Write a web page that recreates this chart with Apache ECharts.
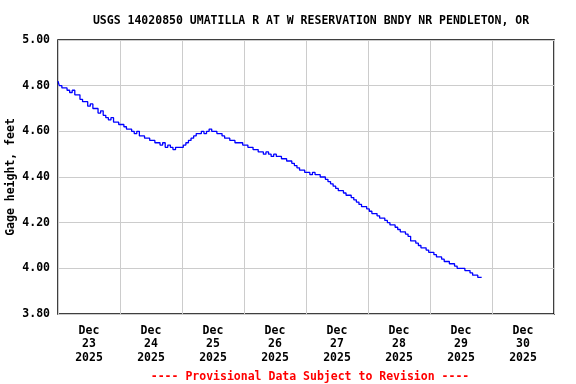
<!DOCTYPE html>
<html><head><meta charset="utf-8">
<script src="https://cdn.jsdelivr.net/npm/echarts@6/dist/echarts.min.js"></script>
<style>html,body{margin:0;padding:0;background:#fff}#c{width:576px;height:384px}</style>
</head><body><div id="c"></div>
<script>
const titleText = 'USGS 14020850 UMATILLA R AT W RESERVATION BNDY NR PENDLETON, OR';
const footerText = '---- Provisional Data Subject to Revision ----';
const yAxisName = 'Gage height, feet';
const dayLabels = ['Dec\n23\n2025','Dec\n24\n2025','Dec\n25\n2025','Dec\n26\n2025','Dec\n27\n2025','Dec\n28\n2025','Dec\n29\n2025','Dec\n30\n2025'];
const yTicks = [3.8, 4.0, 4.2, 4.4, 4.6, 4.8, 5.0];
// hourly gage height readings (ft), starting at 00:00 of each day
const dec23 = [4.82,4.80,4.79,4.79,4.78,4.77,4.78,4.76,4.76,4.74,4.73,4.73,4.71,4.72,4.70,4.70,4.68,4.69,4.67,4.66,4.65,4.66,4.64,4.64];
const dec24 = [4.63,4.63,4.62,4.61,4.61,4.60,4.59,4.60,4.58,4.58,4.57,4.57,4.56,4.56,4.55,4.55,4.54,4.55,4.53,4.54,4.53,4.52,4.53,4.53];
const dec25 = [4.53,4.54,4.55,4.56,4.57,4.58,4.59,4.59,4.60,4.59,4.60,4.61,4.60,4.60,4.59,4.59,4.58,4.57,4.57,4.56,4.56,4.55,4.55,4.55];
const dec26 = [4.54,4.54,4.53,4.53,4.52,4.52,4.51,4.51,4.50,4.51,4.50,4.49,4.50,4.49,4.49,4.48,4.48,4.47,4.47,4.46,4.45,4.44,4.43,4.43];
const dec27 = [4.42,4.42,4.41,4.42,4.41,4.41,4.40,4.40,4.39,4.38,4.37,4.36,4.35,4.34,4.34,4.33,4.32,4.32,4.31,4.30,4.29,4.28,4.27,4.27];
const dec28 = [4.26,4.25,4.24,4.24,4.23,4.22,4.22,4.21,4.20,4.19,4.19,4.18,4.17,4.16,4.16,4.15,4.14,4.12,4.12,4.11,4.10,4.09,4.09,4.08];
const dec29 = [4.07,4.07,4.06,4.05,4.05,4.04,4.03,4.03,4.02,4.02,4.01,4.00,4.00,4.00,3.99,3.99,3.98,3.97,3.97,3.96,3.96];

const days = [dec23, dec24, dec25, dec26, dec27, dec28, dec29];
const seriesData = [];
days.forEach((arr, d) => arr.forEach((v, h) => seriesData.push([d * 24 + h, v])));

const FONT = '"DejaVu Sans Mono", monospace';
const chart = echarts.init(document.getElementById('c'), null, {renderer: 'canvas'});
chart.setOption({
  animation: false,
  backgroundColor: '#fff',
  title: [
    {text: titleText, left: 306, top: 10, textAlign: 'center',
     textStyle: {fontFamily: FONT, fontWeight: 'bold', fontSize: 11.5, color: '#000'}},
    {text: footerText, left: 305, top: 366, textAlign: 'center',
     textStyle: {fontFamily: FONT, fontWeight: 'bold', fontSize: 11.5, color: '#ff0000'}}
  ],
  grid: {left: 58, right: 22, top: 40, bottom: 70, containLabel: false, outerBoundsMode: 'none',
         show: true, borderColor: '#000', borderWidth: 1.5, backgroundColor: '#fff'},
  xAxis: [
    {type: 'category', data: dayLabels, boundaryGap: true,
     axisLine: {show: false}, axisTick: {show: false},
     splitLine: {show: true, lineStyle: {color: '#cccccc', width: 1}},
     axisLabel: {fontFamily: FONT, fontWeight: 'bold', fontSize: 11.5, color: '#000', lineHeight: 13.5, margin: 10, interval: 0}},
    {type: 'value', min: 0, max: 192, show: false}
  ],
  yAxis: {
    type: 'value', min: 3.8, max: 5.0, interval: 0.2,
    name: yAxisName, nameLocation: 'middle', nameGap: 41, nameRotate: 90, nameMoveOverlap: false,
    nameTextStyle: {fontFamily: FONT, fontWeight: 'bold', fontSize: 11.5, color: '#000'},
    axisLine: {show: false}, axisTick: {show: false},
    splitLine: {show: true, lineStyle: {color: '#cccccc', width: 1}},
    axisLabel: {fontFamily: FONT, fontWeight: 'bold', fontSize: 11.5, color: '#000', margin: 8,
      formatter: v => { const t = yTicks.find(x => Math.abs(x - v) < 1e-6); return (t !== undefined ? t : v).toFixed(2); }}
  },
  series: [{
    type: 'line', xAxisIndex: 1, data: seriesData, showSymbol: false, symbol: 'none', step: 'middle',
    lineStyle: {color: '#0000ff', width: 1.3}, z: 5
  }]
});
</script></body></html>
